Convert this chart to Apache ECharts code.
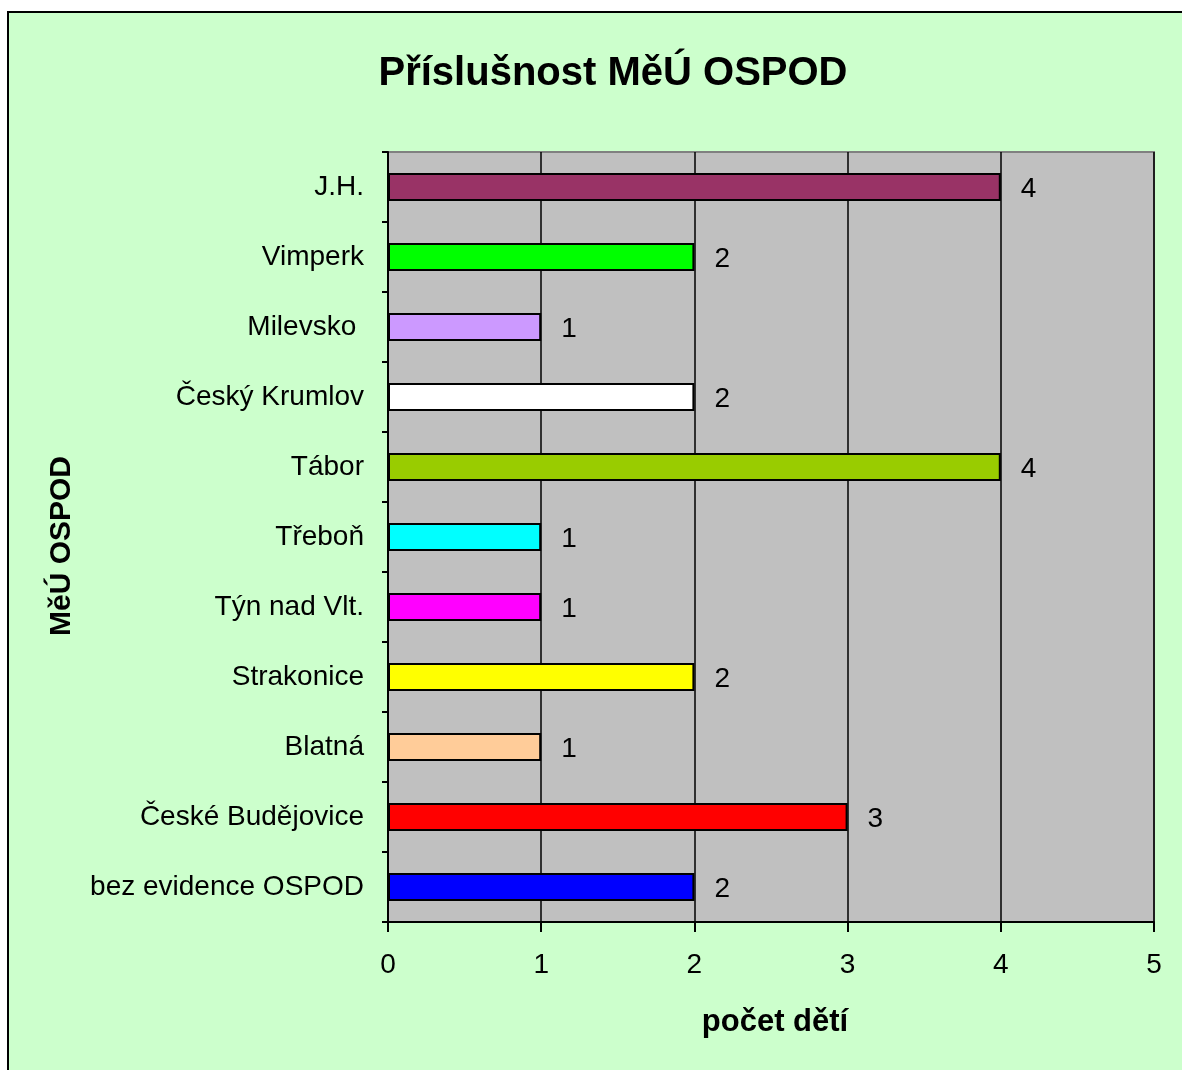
<!DOCTYPE html>
<html><head><meta charset="utf-8">
<script src="https://cdn.jsdelivr.net/npm/echarts@6/dist/echarts.min.js"></script>
<style>
html,body{margin:0;padding:0;background:#fff;overflow:hidden;width:1182px;height:1070px;}
#frame{position:absolute;left:7px;top:11px;width:1173px;height:1059px;border-left:2px solid #000;border-top:2px solid #000;background:#CCFFCC;}
#c{position:absolute;left:0;top:0;width:1182px;height:1070px;}
</style></head>
<body>
<div id="frame"></div>
<div id="c"></div>
<script>
const categories = ['bez evidence OSPOD','České Budějovice','Blatná','Strakonice','Týn nad Vlt.','Třeboň','Tábor','Český Krumlov','Milevsko ','Vimperk','J.H.'];
const values = [2,3,1,2,1,1,4,2,1,2,4];
const colors = ['#0000FF','#FF0000','#FFCC99','#FFFF00','#FF00FF','#00FFFF','#99CC00','#FFFFFF','#CC99FF','#00FF00','#993366'];
const xTicks = [0,1,2,3,4,5];

const FONT = '"Liberation Sans", Arial, sans-serif';
const chart = echarts.init(document.getElementById('c'));
chart.setOption({
  backgroundColor: 'transparent',
  animation: false,
  textStyle: {fontFamily: FONT},
  title: {
    text: 'Příslušnost MěÚ OSPOD',
    left: 608, top: 49, textAlign: 'center',
    textStyle: {fontFamily: FONT, fontSize: 40, fontWeight: 'bold', color: '#000'}
  },
  graphic: [
    {type: 'text', x: 62, y: 546, rotation: Math.PI/2,
     style: {text: 'MěÚ OSPOD', font: 'bold 30px ' + FONT, fill: '#000', textAlign: 'center', textVerticalAlign: 'middle'}},
    {type: 'text', x: 775, y: 1022,
     style: {text: 'počet dětí', font: 'bold 31px ' + FONT, fill: '#000', textAlign: 'center', textVerticalAlign: 'middle'}}
  ],
  grid: {left: 388, top: 152, right: 28, bottom: 148, show: true, backgroundColor: '#C0C0C0', borderColor: '#808080', borderWidth: 2, containLabel: false},
  xAxis: {
    type: 'value', min: xTicks[0], max: xTicks[xTicks.length-1], interval: 1,
    axisLine: {show: true, lineStyle: {color: '#000', width: 2}},
    axisTick: {show: true, length: 10, lineStyle: {color: '#000', width: 2}},
    axisLabel: {fontSize: 28, color: '#000', margin: 29, fontFamily: FONT},
    splitLine: {show: true, lineStyle: {color: '#000', width: 1.5}}
  },
  yAxis: {
    type: 'category', data: categories,
    axisLine: {show: true, lineStyle: {color: '#000', width: 2}},
    axisTick: {show: true, length: 6, alignWithLabel: false, lineStyle: {color: '#000', width: 2}},
    axisLabel: {fontSize: 28, color: '#000', margin: 24, fontFamily: FONT},
    splitLine: {show: false}
  },
  series: [{
    type: 'bar',
    barWidth: '40%',
    data: values.map((v, i) => ({value: v, itemStyle: {color: colors[i]}})),
    itemStyle: {borderColor: '#000', borderWidth: 2},
    label: {show: true, position: 'right', distance: 20, fontSize: 28, color: '#000', fontFamily: FONT, offset: [0, 2]},
    z: 3
  }]
});
</script>
</body></html>
